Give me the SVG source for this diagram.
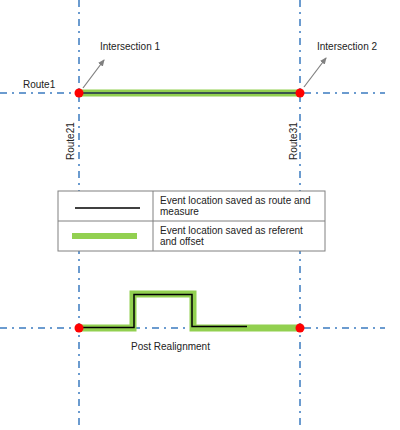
<svg xmlns="http://www.w3.org/2000/svg" width="400" height="430" viewBox="0 0 400 430">
<style>
.route{stroke:#6b9bcf;stroke-width:2;stroke-dasharray:7 5 2 5;fill:none}
.green{stroke:#92d050;stroke-width:7;fill:none}
.blk{stroke:#000;stroke-width:1.5;fill:none}
.lbl{font-family:"Liberation Sans",Arial,sans-serif;font-size:10px;fill:#222}
.arr{stroke:#808080;stroke-width:1.2;fill:none}
.dot{fill:#ff0000}
</style>
<defs>
<marker id="ah" markerWidth="8" markerHeight="8" refX="6" refY="3" orient="auto" markerUnits="userSpaceOnUse">
<path d="M0,0 L7,3 L0,6 Z" fill="#808080"/>
</marker>
</defs>
<rect width="400" height="430" fill="#fff"/>
<g id="connectors">
<line class="route" x1="0" y1="93" x2="385" y2="93"/>
<line class="route" x1="79" y1="0" x2="79" y2="430"/>
<line class="route" x1="300" y1="0" x2="300" y2="430"/>
<line class="route" x1="0" y1="328" x2="385" y2="328"/>
<line class="green" x1="79" y1="93" x2="300" y2="93"/>
<line stroke="#1c2d4d" stroke-width="1.5" x1="79" y1="93" x2="300" y2="93"/>
<polyline class="green" points="79,328 133,328 133,294 193,294 193,328 300,328"/>
<polyline class="blk" points="79,327.5 134,327.5 134,294.5 192,294.5 192,326.5 247,326.5"/>
<line class="arr" x1="83" y1="88" x2="104" y2="60" marker-end="url(#ah)"/>
<line class="arr" x1="304" y1="87" x2="326" y2="58" marker-end="url(#ah)"/>
</g>
<g id="labels">
<text class="lbl" x="100" y="50">Intersection 1</text>
<text class="lbl" x="317" y="50">Intersection 2</text>
<text class="lbl" x="23" y="88">Route1</text>
<text class="lbl" transform="translate(74,160) rotate(-90)">Route21</text>
<text class="lbl" transform="translate(297,160) rotate(-90)">Route31</text>
<text class="lbl" x="131" y="350">Post Realignment</text>
</g>
<g id="points">
<circle class="dot" cx="79" cy="93" r="4.5"/>
<circle class="dot" cx="300" cy="93" r="4.5"/>
<circle class="dot" cx="79" cy="328" r="4.5"/>
<circle class="dot" cx="300" cy="328" r="4.5"/>
</g>
<g id="legend">
<rect x="58" y="191" width="267" height="60" fill="#fff" stroke="#808080" stroke-width="1"/>
<line x1="58" y1="221" x2="325" y2="221" stroke="#808080" stroke-width="1"/>
<line x1="153" y1="191" x2="153" y2="251" stroke="#808080" stroke-width="1"/>
<line x1="75" y1="208" x2="140" y2="208" stroke="#000" stroke-width="1.5"/>
<rect x="72" y="233" width="65" height="6" fill="#92d050"/>
<text class="lbl" x="160" y="204">Event location saved as route and</text>
<text class="lbl" x="160" y="215">measure</text>
<text class="lbl" x="160" y="234">Event location saved as referent</text>
<text class="lbl" x="160" y="245">and offset</text>
</g>
</svg>
